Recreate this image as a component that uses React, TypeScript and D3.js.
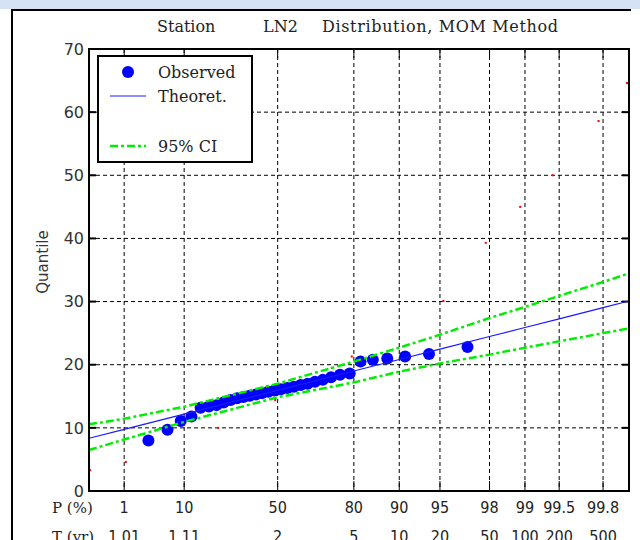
import React, { useRef, useEffect } from 'react';
import * as d3 from 'd3';

// probability ticks (non-exceedance, %) and return periods
const probTicks = [1, 10, 50, 80, 90, 95, 98, 99, 99.5, 99.8];
const periodLabels = ['1.01', '1.11', '2', '5', '10', '20', '50', '100', '200', '500'];
const yTicks = [0, 10, 20, 30, 40, 50, 60, 70];

// observed sample (plotting position %, value)
const obsProb = [
  3.03, 6.06, 9.09, 12.12, 15.15, 18.18, 21.21, 24.24, 27.27, 30.3, 33.33, 36.36, 39.39, 42.42, 45.45, 48.48,
  51.52, 54.55, 57.58, 60.61, 63.64, 66.67, 69.7, 72.73, 75.76, 78.79, 81.82, 84.85, 87.88, 90.91, 93.94, 96.97,
];
const obsValue = [
  8.0, 9.7, 11.1, 11.8, 13.2, 13.4, 13.6, 14.0, 14.4, 14.7, 14.9, 15.1, 15.3, 15.5, 15.7, 15.9,
  16.1, 16.3, 16.5, 16.8, 17.0, 17.3, 17.6, 18.0, 18.4, 18.6, 20.5, 20.8, 21.0, 21.3, 21.7, 22.8,
];

// theoretical quantile and 95% confidence band
const curveProb = [0.11, 1, 10, 50, 80, 90, 95, 98, 99, 99.5, 99.8, 99.885];
const theoValue = [8.35, 9.76, 12.17, 15.94, 19.0, 20.82, 22.46, 24.47, 25.89, 27.27, 29.04, 30.09];
const ciUpper = [10.55, 11.45, 13.35, 17.0, 20.5, 22.7, 24.75, 27.4, 29.15, 30.9, 33.1, 34.48];
const ciLower = [6.5, 8.15, 10.95, 14.85, 17.2, 18.9, 20.2, 21.6, 22.7, 23.7, 25.0, 25.77];

// stray red markers
const redProb = [0.12, 1.09, 21.9, 48.8, 73.0, 79.4, 95.3, 97.85, 98.9, 99.43, 99.78, 99.88];
const redValue = [3.3, 4.6, 10.0, 14.4, 19.5, 21.3, 30.1, 39.3, 45.0, 50.0, 58.6, 64.6];

// inverse standard normal (Acklam)
function probit(p: number) {
  const a = [-39.69683028665376, 220.9460984245205, -275.9285104469687, 138.357751867269, -30.66479806614716, 2.506628277459239];
  const b = [-54.47609879822406, 161.5858368580409, -155.6989798598866, 66.80131188771972, -13.28068155288572];
  const c = [-0.007784894002430293, -0.3223964580411365, -2.400758277161838, -2.549732539343734, 4.374664141464968, 2.938163982698783];
  const d = [0.007784695709041462, 0.3224671290700398, 2.445134137142996, 3.754408661907416];
  const pl = 0.02425;
  if (p < pl) {
    const q = Math.sqrt(-2 * Math.log(p));
    return (((((c[0] * q + c[1]) * q + c[2]) * q + c[3]) * q + c[4]) * q + c[5]) / ((((d[0] * q + d[1]) * q + d[2]) * q + d[3]) * q + 1);
  }
  if (p <= 1 - pl) {
    const q = p - 0.5;
    const r = q * q;
    return ((((((a[0] * r + a[1]) * r + a[2]) * r + a[3]) * r + a[4]) * r + a[5]) * q) / (((((b[0] * r + b[1]) * r + b[2]) * r + b[3]) * r + b[4]) * r + 1);
  }
  const q = Math.sqrt(-2 * Math.log(1 - p));
  return -(((((c[0] * q + c[1]) * q + c[2]) * q + c[3]) * q + c[4]) * q + c[5]) / ((((d[0] * q + d[1]) * q + d[2]) * q + d[3]) * q + 1);
}

// LN2 probability paper: position linear in the reduced lognormal quantile
const SIGMA = 0.205;
const reduced = (pct: number) => Math.exp(SIGMA * probit(pct / 100));

const W = 640,
  H = 540;
const plot = { left: 89, right: 629, top: 49, bottom: 491 };

export default function App() {
  const ref = useRef<SVGSVGElement>(null);

  useEffect(() => {
    const svg = d3.select(ref.current);
    svg.selectAll('*').remove();

    const xq = d3.scaleLinear().domain([reduced(0.11), reduced(99.885)]).range([plot.left, plot.right]);
    const x = (p: number) => xq(reduced(p));
    const y = d3.scaleLinear().domain([0, 70]).range([plot.bottom, plot.top]);

    // page background bits
    svg.append('rect').attr('width', W).attr('height', H).attr('fill', '#fff');
    svg.append('rect').attr('width', W).attr('height', 9).attr('fill', '#d5e2f5');
    svg.append('line').attr('x1', 12).attr('x2', 12).attr('y1', 10).attr('y2', H).attr('stroke', '#000').attr('stroke-width', 2);
    svg.append('line').attr('x1', 11).attr('x2', 631).attr('y1', 10).attr('y2', 10).attr('stroke', '#000').attr('stroke-width', 2);

    // title
    const title = svg.append('g').attr('font-family', '"DejaVu Serif", serif').attr('font-size', 16).attr('fill', '#222');
    title.append('text').attr('x', 157).attr('y', 32).text('Station');
    title.append('text').attr('x', 263).attr('y', 32).text('LN2');
    title.append('text').attr('x', 322).attr('y', 32).attr('textLength', 236).text('Distribution, MOM Method');

    // grid
    const grid = svg.append('g').attr('stroke', '#000').attr('stroke-width', 1).attr('stroke-dasharray', '4 3');
    yTicks.filter((t) => t > 0 && t < 70).forEach((t) => {
      grid.append('line').attr('x1', plot.left).attr('x2', plot.right).attr('y1', y(t)).attr('y2', y(t));
    });
    probTicks.forEach((p) => {
      grid.append('line').attr('x1', x(p)).attr('x2', x(p)).attr('y1', plot.top).attr('y2', plot.bottom);
    });

    // ticks
    const ticks = svg.append('g').attr('stroke', '#000');
    yTicks.forEach((t) => {
      ticks.append('line').attr('x1', plot.left).attr('x2', plot.left + 7).attr('y1', y(t)).attr('y2', y(t)).attr('stroke-width', 2);
      ticks.append('line').attr('x1', plot.right - 7).attr('x2', plot.right).attr('y1', y(t)).attr('y2', y(t)).attr('stroke-width', 2);
    });
    probTicks.forEach((p) => {
      ticks.append('line').attr('x1', x(p)).attr('x2', x(p)).attr('y1', plot.bottom - 10).attr('y2', plot.bottom);
      ticks.append('line').attr('x1', x(p)).attr('x2', x(p)).attr('y1', plot.top).attr('y2', plot.top + 9);
    });

    const clip = svg.append('clipPath').attr('id', 'plotclip');
    clip.append('rect').attr('x', plot.left).attr('y', plot.top).attr('width', plot.right - plot.left).attr('height', plot.bottom - plot.top);
    const g = svg.append('g').attr('clip-path', 'url(#plotclip)');

    // stray red markers
    g.selectAll('.red')
      .data(redProb)
      .enter()
      .append('rect')
      .attr('x', (d) => x(d) - 1)
      .attr('y', (d, i) => y(redValue[i]) - 1)
      .attr('width', 2)
      .attr('height', 2)
      .attr('fill', '#ff0000');

    const line = d3
      .line<number>()
      .x((d) => x(d))
      .y((d, i) => 0);

    const curve = (vals: number[]) =>
      d3
        .line<number>()
        .x((d) => x(d))
        .y((d, i) => y(vals[i]))(curveProb);

    // observed
    g.selectAll('.obs')
      .data(obsProb)
      .enter()
      .append('circle')
      .attr('cx', (d) => x(d))
      .attr('cy', (d, i) => y(obsValue[i]))
      .attr('r', 6)
      .attr('fill', '#0000ff');

    // CI
    [ciUpper, ciLower].forEach((vals) => {
      g.append('path')
        .attr('d', curve(vals))
        .attr('fill', 'none')
        .attr('stroke', '#00ee00')
        .attr('stroke-width', 2.5)
        .attr('stroke-dasharray', '8 3 3 3');
    });

    // theoretical
    g.append('path').attr('d', curve(theoValue)).attr('fill', 'none').attr('stroke', '#1a1aff').attr('stroke-width', 1.2);
    void line;

    // frame
    svg
      .append('rect')
      .attr('x', plot.left)
      .attr('y', plot.top)
      .attr('width', plot.right - plot.left)
      .attr('height', plot.bottom - plot.top)
      .attr('fill', 'none')
      .attr('stroke', '#000')
      .attr('stroke-width', 2);

    // y labels
    const yl = svg.append('g').attr('font-family', '"DejaVu Sans", sans-serif').attr('font-size', 16).attr('fill', '#333');
    yTicks.forEach((t) => {
      yl.append('text')
        .attr('x', 84)
        .attr('y', y(t))
        .attr('dy', '0.36em')
        .attr('text-anchor', 'end')
        .text(t);
    });
    yl.append('text')
      .attr('transform', 'translate(48,262) rotate(-90)')
      .attr('text-anchor', 'middle')
      .attr('font-size', 15)
      .text('Quantile');

    // x labels
    const xl = svg.append('g').attr('font-family', '"Liberation Sans Narrow", "DejaVu Sans Condensed", sans-serif').attr('font-stretch', 'condensed').attr('font-size', 16).attr('fill', '#222');
    probTicks.forEach((p, i) => {
      xl.append('text').attr('x', x(p)).attr('y', 513).attr('text-anchor', 'middle').text(p);
      xl.append('text').attr('x', x(p)).attr('y', 542).attr('text-anchor', 'middle').text(periodLabels[i]);
    });
    const xs = svg.append('g').attr('font-family', '"DejaVu Serif", serif').attr('font-size', 15).attr('fill', '#222');
    xs.append('text').attr('x', 52).attr('y', 513).text('P (%)');
    xs.append('text').attr('x', 52).attr('y', 542).text('T (yr)');

    // legend
    const lg = svg.append('g');
    lg.append('rect').attr('x', 98).attr('y', 56).attr('width', 154).attr('height', 106).attr('fill', '#fff').attr('stroke', '#000').attr('stroke-width', 2);
    lg.append('circle').attr('cx', 128).attr('cy', 72).attr('r', 6).attr('fill', '#0000ff');
    lg.append('line').attr('x1', 110).attr('x2', 146).attr('y1', 96).attr('y2', 96).attr('stroke', '#1a1aff').attr('stroke-width', 1.2);
    lg.append('line').attr('x1', 110).attr('x2', 146).attr('y1', 146).attr('y2', 146).attr('stroke', '#00ee00').attr('stroke-width', 2.5).attr('stroke-dasharray', '8 3 3 3');
    const lt = lg.append('g').attr('font-family', '"DejaVu Serif", serif').attr('font-size', 16).attr('fill', '#222');
    lt.append('text').attr('x', 158).attr('y', 78).text('Observed');
    lt.append('text').attr('x', 158).attr('y', 102).text('Theoret.');
    lt.append('text').attr('x', 158).attr('y', 152).text('95% CI');
  }, []);

  return <svg ref={ref} width={W} height={H} style={{ position: 'absolute', left: 0, top: 0 }} />;
}
